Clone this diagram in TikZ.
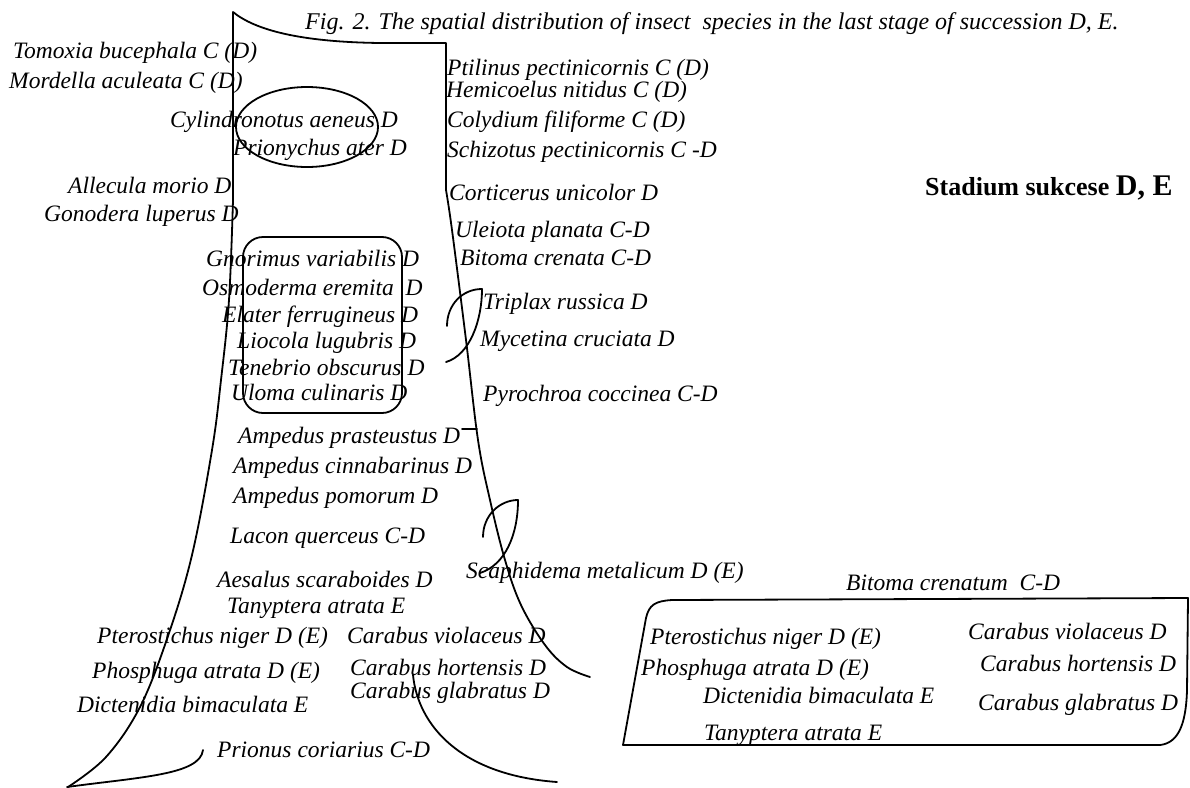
\documentclass[tikz,border=0pt]{standalone}
\usepackage{fontspec}
\setmainfont{Liberation Serif}
\begin{document}
\begin{tikzpicture}[x=1pt,y=-1pt,
  lbl/.style={anchor=base west,inner sep=0pt,font=\fontsize{23.5}{28}\selectfont\itshape},
  ttl/.style={anchor=base west,inner sep=0pt,font=\fontsize{24}{28}\selectfont\itshape},
  stage/.style={anchor=base west,inner sep=0pt,font=\fontsize{26}{30}\selectfont\bfseries},
  ln/.style={line width=1.8pt,line cap=round,line join=round}]
\useasboundingbox[fill=white] (0,0) rectangle (1190,787);

% title
\node[ttl] (title) at (305,29) {Fig. 2. The spatial distribution of insect\ \ species in the last stage of succession D, E.};

% trunk outline
\draw[ln] plot[smooth,tension=0.6] coordinates {(233,200) (229,300) (221,380) (212,450) (192,555) (168,636) (140,707) (106,757) (68,787)};
\draw[ln] (233,200) -- (233,12) .. controls (255,30) and (300,42) .. (380,43) -- (446,43) -- (446,190);
\draw[ln] plot[smooth,tension=0.6] coordinates {(446,190) (452,230) (466,340) (478,440) (490,500) (505,560) (521,605) (545,645) (567,667) (590,677)};
\draw[ln] (203,750) .. controls (200,775) and (140,777) .. (67,787);
\draw[ln] (413,675) .. controls (418,725) and (460,775) .. (557,782);
\draw[ln] (462,429) -- (477,429);

% groupings
\draw[ln] (307,127) ellipse [x radius=71,y radius=40];
\draw[ln,rounded corners=20pt] (243,237) rectangle (402,413);
\draw[ln] (447,326) .. controls (447,305) and (462,289) .. (482,289) .. controls (482,320) and (470,355) .. (446,362);
\draw[ln] (483,537) .. controls (483,515) and (500,500) .. (518,500) .. controls (518,535) and (505,565) .. (480,573);

% left labels
\node[lbl] (tomoxia) at (13,58) {Tomoxia bucephala C (D)};
\node[lbl] (mordella) at (9,88) {Mordella aculeata C (D)};
\node[lbl] (cylin) at (170,127) {Cylindronotus aeneus D};
\node[lbl] (priony) at (233,155) {Prionychus ater D};
\node[lbl] (allecula) at (68,193) {Allecula morio D};
\node[lbl] (gonodera) at (44,221) {Gonodera luperus D};
\node[lbl] (gnorimus) at (206,266) {Gnorimus variabilis D};
\node[lbl] (osmoderma) at (202,295) {Osmoderma eremita\ \ D};
\node[lbl] (elater) at (222,322) {Elater ferrugineus D};
\node[lbl] (liocola) at (237,348) {Liocola lugubris D};
\node[lbl] (tenebrio) at (228,375) {Tenebrio obscurus D};
\node[lbl] (uloma) at (231,400) {Uloma culinaris D};
\node[lbl] (amppras) at (238,443) {Ampedus prasteustus D};
\node[lbl] (ampcinn) at (233,473) {Ampedus cinnabarinus D};
\node[lbl] (amppom) at (233,503) {Ampedus pomorum D};
\node[lbl] (lacon) at (230,543) {Lacon querceus C-D};
\node[lbl] (aesalus) at (217,587) {Aesalus scaraboides D};
\node[lbl] (tanyA) at (227,613) {Tanyptera atrata E};
\node[lbl] (pteroA) at (97,643) {Pterostichus niger D (E)};
\node[lbl] (carviolA) at (347,643) {Carabus violaceus D};
\node[lbl] (phosA) at (92,678) {Phosphuga atrata D (E)};
\node[lbl] (carhortA) at (350,675) {Carabus hortensis D};
\node[lbl] (carglabA) at (350,698) {Carabus glabratus D};
\node[lbl] (dictA) at (77,712) {Dictenidia bimaculata E};
\node[lbl] (prionus) at (217,757) {Prionus coriarius C-D};

% right labels
\node[lbl] (ptilinus) at (447,75) {Ptilinus pectinicornis C (D)};
\node[lbl] (hemicoelus) at (446,97) {Hemicoelus nitidus C (D)};
\node[lbl] (colydium) at (447,127) {Colydium filiforme C (D)};
\node[lbl] (schizotus) at (447,157) {Schizotus pectinicornis C -D};
\node[lbl] (corticerus) at (449,200) {Corticerus unicolor D};
\node[lbl] (uleiota) at (455,237) {Uleiota planata C-D};
\node[lbl] (bitoma) at (460,265) {Bitoma crenata C-D};
\node[lbl] (triplax) at (483,309) {Triplax russica D};
\node[lbl] (mycetina) at (480,346) {Mycetina cruciata D};
\node[lbl] (pyrochroa) at (483,401) {Pyrochroa coccinea C-D};
\node[lbl] (scaphidema) at (466,578) {Scaphidema metalicum D (E)};

% stage label
\node[stage] (stadium) at (925,195) {Stadium sukcese {\fontsize{30}{34}\selectfont D, E}};

% box
\node[lbl] (bitomac) at (846,590) {Bitoma crenatum\ \ C-D};
\draw[ln] (623,745) -- (646,618) .. controls (649,605) and (655,601) .. (672,600) -- (1188,598) -- (1187,690) .. controls (1186,725) and (1178,743) .. (1160,745) -- cycle;
\node[lbl] (pteroB) at (650,644) {Pterostichus niger D (E)};
\node[lbl] (carviolB) at (968,639) {Carabus violaceus D};
\node[lbl] (phosB) at (641,675) {Phosphuga atrata D (E)};
\node[lbl] (carhortB) at (980,671) {Carabus hortensis D};
\node[lbl] (dictB) at (703,703) {Dictenidia bimaculata E};
\node[lbl] (carglabB) at (978,710) {Carabus glabratus D};
\node[lbl] (tanyB) at (704,740) {Tanyptera atrata E};
\end{tikzpicture}
\end{document}
